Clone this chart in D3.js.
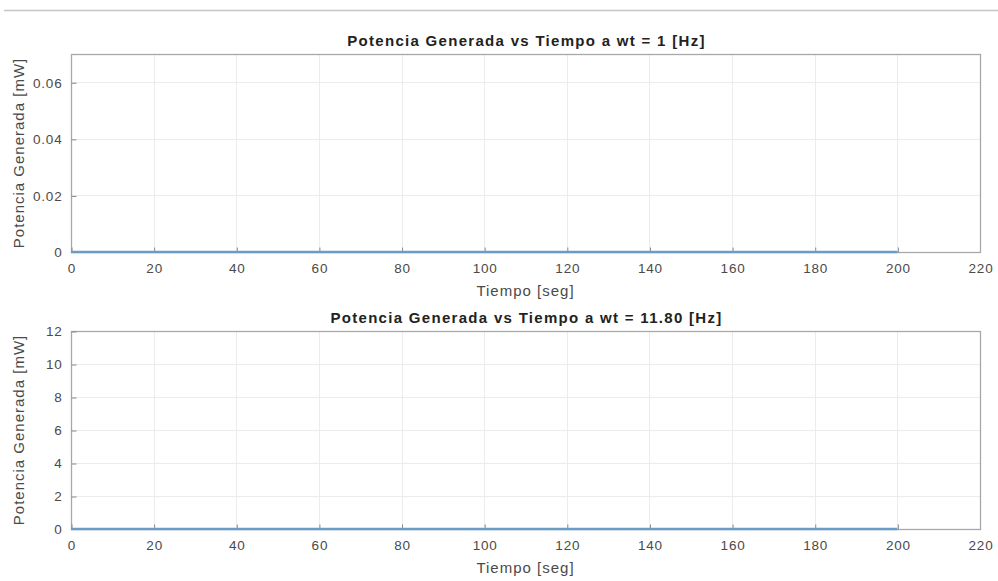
<!DOCTYPE html>
<html>
<head>
<meta charset="utf-8">
<script src="https://cdn.jsdelivr.net/npm/d3@7"></script>
<style>
  body { margin: 0; background: #fff; }
  text { font-family: "Liberation Sans", Arial, sans-serif; }
</style>
</head>
<body>
<div id="chart"></div>
<script>
// data (power stays at ~0 for both cases)
var tiempo = [0, 20, 40, 60, 80, 100, 120, 140, 160, 180, 200];
var potencia1 = [0, 0, 0, 0, 0, 0, 0, 0, 0, 0, 0];
var potencia2 = [0, 0, 0, 0, 0, 0, 0, 0, 0, 0, 0];
var xTicks = [0, 20, 40, 60, 80, 100, 120, 140, 160, 180, 200, 220];
var yTicks1 = [0, 0.02, 0.04, 0.06];
var yTicks2 = [0, 2, 4, 6, 8, 10, 12];
var titles = ["Potencia Generada vs Tiempo a wt = 1 [Hz]", "Potencia Generada vs Tiempo a wt = 11.80 [Hz]"];

var svgWidth = 998, svgHeight = 581;

var svg = d3.select("#chart")
  .append("svg")
  .attr("width", svgWidth)
  .attr("height", svgHeight);

// thin rule at the top of the figure
svg.append("line")
  .attr("x1", 4).attr("x2", 998)
  .attr("y1", 10.5).attr("y2", 10.5)
  .attr("stroke", "#c4c4c4")
  .attr("stroke-width", 1.5);

function drawPanel(top, bottom, yMax, yTicks, yFmt, values, title) {
  var left = 71, right = 980;

  var x = d3.scaleLinear().domain([0, 220]).range([left, right]);
  var y = d3.scaleLinear().domain([0, yMax]).range([bottom, top]);

  var g = svg.append("g");

  // grid
  g.selectAll(".vgrid").data(xTicks.slice(1, -1)).enter().append("line")
    .attr("x1", d => Math.round(x(d)) + 0.5).attr("x2", d => Math.round(x(d)) + 0.5)
    .attr("y1", top).attr("y2", bottom)
    .attr("stroke", "#ececec");
  g.selectAll(".hgrid").data(yTicks.filter(d => d > 0 && d < yMax)).enter().append("line")
    .attr("x1", left).attr("x2", right)
    .attr("y1", d => Math.round(y(d)) + 0.5).attr("y2", d => Math.round(y(d)) + 0.5)
    .attr("stroke", "#ececec");

  // box
  g.append("rect")
    .attr("x", left + 0.5).attr("y", top + 0.5)
    .attr("width", right - left).attr("height", bottom - top)
    .attr("fill", "none")
    .attr("stroke", "#a8a8a8")
    .attr("stroke-width", 1.3);

  // axes with inward ticks
  var bottomAxis = d3.axisBottom(x).tickValues(xTicks).tickSize(-5).tickPadding(9).tickFormat(d3.format("d"));
  var leftAxis = d3.axisLeft(y).tickValues(yTicks).tickSize(-5).tickPadding(9).tickFormat(yFmt);

  var ax = g.append("g").attr("transform", `translate(0.5, ${bottom + 0.5})`).call(bottomAxis);
  var ay = g.append("g").attr("transform", `translate(${left + 0.5}, 0.5)`).call(leftAxis);
  [ax, ay].forEach(function(a) {
    a.select(".domain").remove();
    a.selectAll(".tick line").attr("stroke", "#8a8a8a");
    a.selectAll(".tick text").attr("fill", "#4a4a4a").style("font-size", "13.5px").style("letter-spacing", "0.8px");
  });
  ax.selectAll(".tick text").attr("dy", "0.85em");
  ax.select(".tick:last-of-type line").remove();
  ay.select(".tick:first-of-type line").remove();

  // line, drawn above the box like the original
  var line = d3.line().x((d, i) => x(tiempo[i])).y(d => y(d));
  g.append("path")
    .datum(values)
    .attr("d", line)
    .attr("fill", "none")
    .attr("stroke", "#6b9cc6")
    .attr("stroke-width", 2.5);

  // titles
  g.append("text")
    .attr("x", (left + right) / 2 + 1)
    .attr("y", top - 8)
    .attr("text-anchor", "middle")
    .style("font-size", "15px")
    .style("font-weight", "bold")
    .style("letter-spacing", "1.3px")
    .attr("fill", "#222")
    .text(title);

  g.append("text")
    .attr("x", (left + right) / 2)
    .attr("y", bottom + 44)
    .attr("text-anchor", "middle")
    .style("font-size", "15px")
    .style("letter-spacing", "1px")
    .attr("fill", "#4a4a4a")
    .text("Tiempo [seg]");

  g.append("text")
    .attr("transform", "rotate(-90)")
    .attr("x", -(top + bottom) / 2)
    .attr("y", 24)
    .attr("text-anchor", "middle")
    .style("font-size", "15px")
    .style("letter-spacing", "1px")
    .attr("fill", "#4a4a4a")
    .text("Potencia Generada [mW]");
}

drawPanel(54, 252, 0.07, yTicks1, d => d === 0 ? "0" : d3.format(".2f")(d), potencia1, titles[0]);
drawPanel(331, 529, 12, yTicks2, d3.format("d"), potencia2, titles[1]);
</script>
</body>
</html>
